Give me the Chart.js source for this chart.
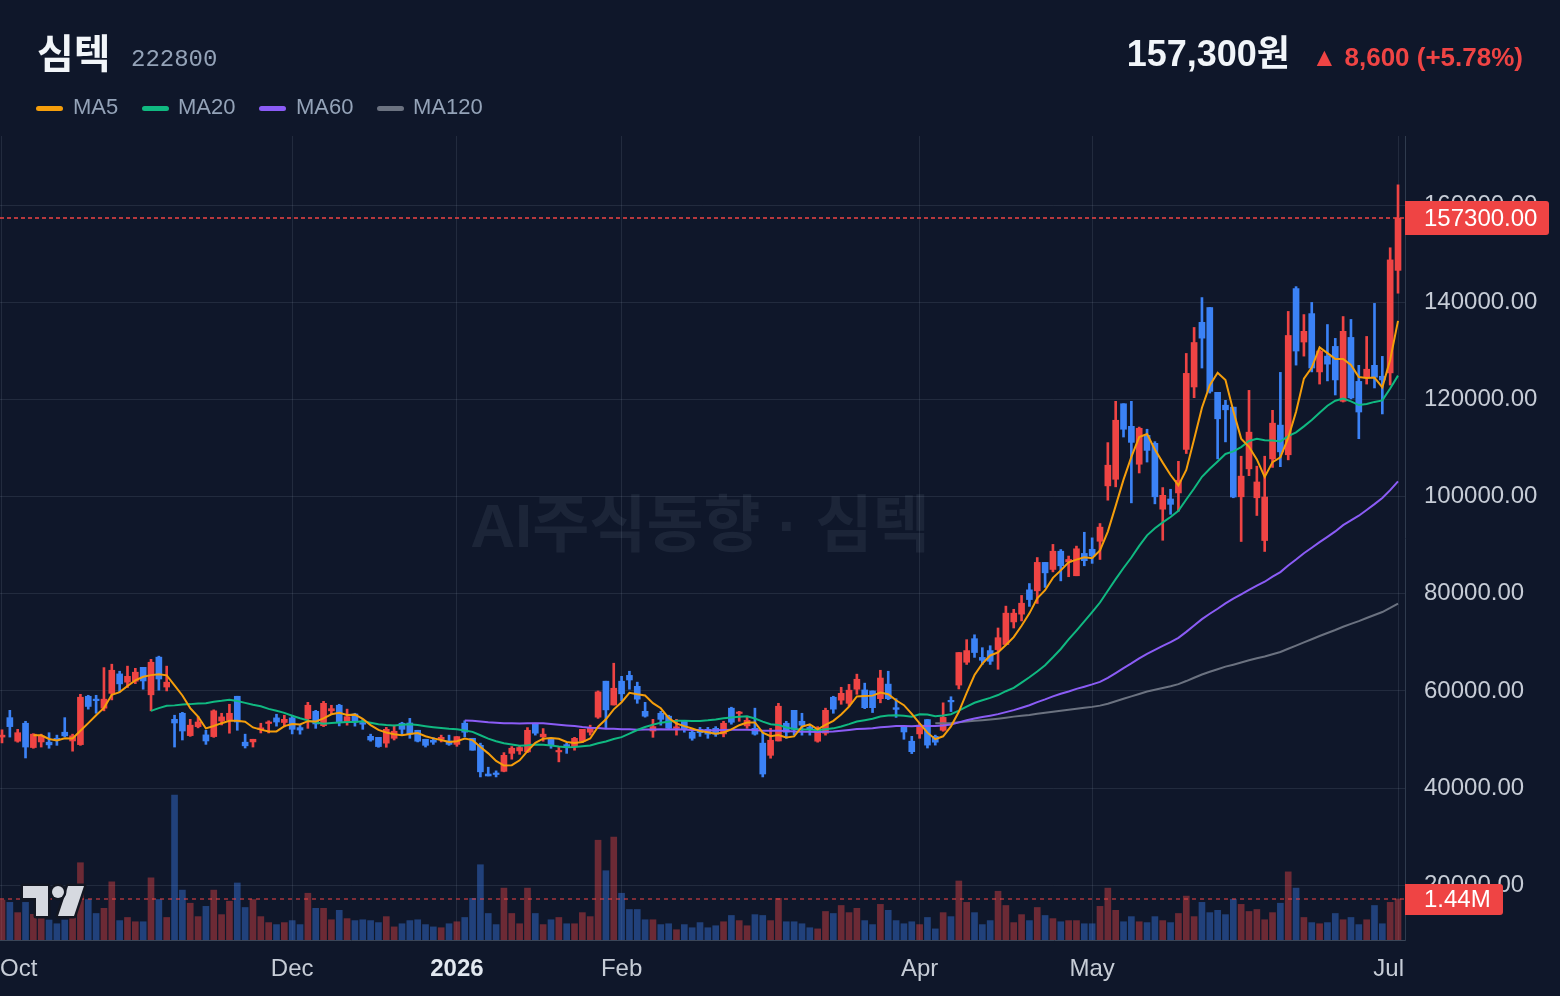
<!DOCTYPE html>
<html>
<head>
<meta charset="utf-8">
<script src="https://cdn.jsdelivr.net/npm/chart.js@4.4.1/dist/chart.umd.min.js"></script>
<style>
  html, body { margin: 0; padding: 0; background: #0f172a; }
  #wrap { position: relative; width: 1560px; height: 996px; overflow: hidden; }
  canvas { position: absolute; left: 0; top: 0; }
  .t { position: absolute; white-space: nowrap; }
  .sw { position: absolute; width: 27px; height: 5px; border-radius: 3px; }
  .lg { position: absolute; top: 96px; font: 22px/22px "Liberation Sans", sans-serif; color: #94a3b8; }
</style>
</head>
<body>
<div id="wrap">
  <canvas id="chart" width="1560" height="996"></canvas>
  <div class="t" style="left:37px; top:31px; font:bold 40px/40px 'Noto Sans CJK KR', sans-serif; color:#f1f5f9;">심텍</div>
  <div class="t" style="left:131px; top:48px; font:24px/24px 'Liberation Mono', monospace; color:#94a3b8;">222800</div>
  <div class="t" style="right:270px; top:36px; font:bold 36px/36px 'Liberation Sans', 'Noto Sans CJK KR', sans-serif; color:#f1f5f9;">157,300원</div>
  <div class="t" style="right:37px; top:44px; font:bold 26px/26px 'Liberation Sans', 'DejaVu Sans', sans-serif; color:#ef4444;">▲ 8,600 (+5.78%)</div>

  <div class="sw" style="left:36px; top:106px; background:#f59e0b;"></div>
  <div class="lg" style="left:73px;">MA5</div>
  <div class="sw" style="left:142px; top:106px; background:#10b981;"></div>
  <div class="lg" style="left:178px;">MA20</div>
  <div class="sw" style="left:259px; top:106px; background:#8b5cf6;"></div>
  <div class="lg" style="left:296px;">MA60</div>
  <div class="sw" style="left:377px; top:106px; background:#6b7280;"></div>
  <div class="lg" style="left:413px;">MA120</div>
</div>
<script>
// daily candles, Oct -> Jul (one entry per trading day)
const opens = [
  50500, 54500, 49650, 53350, 48350, 49500, 49450, 50250, 51500, 49700,
  48950, 58900, 58300, 56450, 59500, 63500, 61800, 62000, 64850, 59200,
  66950, 60800, 54150, 55400, 50800, 52650, 50950, 50600, 53800, 53950,
  58900, 49450, 49500, 52050, 53300, 54450, 53500, 54450, 52450, 54300,
  55800, 52850, 55900, 57050, 53600, 55250, 53500, 50650, 50450, 49250,
  50250, 53350, 53400, 51900, 50050, 49850, 50050, 49700, 49000, 53350,
  50250, 48800, 42900, 43050, 43450, 47150, 47650, 47450, 53350, 50550,
  50250, 47450, 48950, 48550, 49650, 51500, 54600, 62000, 57100, 62000,
  63200, 60950, 55800, 51750, 55400, 54800, 52300, 53750, 51500, 52100,
  52100, 52300, 51150, 56450, 55350, 52800, 52300, 49250, 46750, 49700,
  53350, 56000, 53750, 52500, 49650, 51300, 58700, 58100, 57450, 60350,
  60200, 60000, 58400, 61400, 56550, 52700, 49650, 51150, 54100, 50650,
  51900, 57950, 61200, 65900, 70750, 66900, 68300, 68500, 69550, 74200,
  75800, 80800, 80600, 86450, 85000, 88750, 86550, 83700, 88300, 89150,
  90800, 102200, 103550, 119100, 114450, 106650, 112600, 110950, 97400, 99500,
  100750, 109700, 122550, 135850, 138900, 121450, 118800, 118400, 99950, 105700,
  99750, 90950, 107750, 114700, 108600, 142800, 131800, 137650, 125650, 128900,
  130900, 119600, 132750, 123700, 124400, 127000, 124750, 125450, 146550
];
const highs = [
  52000, 56000, 52100, 53750, 51200, 51100, 51400, 50900, 54500, 51100,
  59300, 59100, 59100, 64800, 65500, 64050, 65100, 64650, 64850, 66500,
  67150, 65100, 55000, 55600, 54150, 54700, 51900, 56100, 55400, 57250,
  58900, 51100, 50050, 53350, 53850, 55200, 55000, 55000, 53000, 57650,
  56000, 57850, 57050, 57250, 56250, 55400, 54150, 51100, 50450, 52500,
  52950, 53550, 54350, 51900, 50050, 50400, 50900, 50900, 50600, 53850,
  50250, 49250, 44300, 43550, 47300, 48550, 48800, 52450, 53350, 52250,
  50250, 48550, 49250, 50450, 52100, 52950, 60000, 62000, 65700, 63000,
  64050, 61800, 57650, 54150, 55800, 55000, 54150, 53950, 51900, 52500,
  52500, 52650, 53750, 56650, 55800, 54600, 56450, 51500, 52300, 57450,
  53750, 56000, 55400, 52950, 52650, 56450, 58900, 60750, 61350, 63450,
  61600, 60000, 64250, 64050, 58400, 52700, 50650, 53300, 54100, 50900,
  57550, 58800, 67900, 70550, 71550, 68900, 69300, 72950, 77450, 76800,
  79650, 82100, 87450, 86450, 90150, 89100, 87750, 89800, 92650, 91500,
  94450, 111100, 119600, 119100, 119600, 114300, 113850, 111300, 101850, 101500,
  107250, 129450, 134800, 140950, 138900, 121450, 119800, 118400, 108300, 121850,
  106250, 108300, 117750, 125550, 138100, 143200, 137450, 139950, 130150, 135400,
  132550, 137050, 136450, 127000, 132950, 139750, 128850, 151200, 164150
];
const lows = [
  49300, 50500, 49450, 46200, 48200, 48450, 48200, 48800, 50550, 47600,
  48800, 56250, 55400, 55900, 58150, 59800, 60700, 61500, 60350, 55900,
  60150, 60000, 48450, 49900, 50650, 52400, 49000, 50450, 53000, 51300,
  51900, 48250, 48450, 51350, 51350, 52750, 52600, 51150, 51100, 52300,
  52300, 52650, 55200, 52800, 52950, 52750, 52100, 49650, 48400, 48400,
  49900, 50900, 50250, 49500, 48450, 49000, 49500, 48800, 48600, 50550,
  47800, 42300, 42500, 42300, 43350, 45950, 46950, 47300, 50900, 49650,
  48200, 45400, 47150, 47800, 49350, 50900, 54350, 52450, 57100, 57950,
  60350, 57450, 54600, 50450, 52950, 52100, 50900, 51500, 49850, 50650,
  50250, 50650, 50550, 53150, 53750, 52300, 50900, 42300, 46150, 49700,
  50250, 50900, 50900, 50900, 49450, 50900, 55400, 57250, 56850, 59300,
  56350, 55550, 57550, 58200, 54550, 50050, 47100, 50250, 48250, 48850,
  51700, 55750, 60400, 65450, 66900, 65450, 65450, 64450, 69550, 72950,
  74400, 77400, 78000, 81300, 84500, 82650, 83500, 83700, 85750, 86250,
  87050, 99250, 102000, 112250, 98700, 104850, 107100, 98500, 91000, 96350,
  97000, 108850, 120350, 126450, 121300, 107750, 111250, 99750, 90750, 104300,
  96100, 88700, 106000, 106150, 107550, 127050, 128900, 125650, 123150, 123800,
  120900, 119450, 120100, 111900, 123150, 122350, 117000, 122950, 141850
];
const closes = [
  50900, 52650, 51400, 48450, 51100, 50750, 48900, 49850, 50750, 50750,
  58700, 56800, 58000, 58300, 64250, 61450, 63000, 63850, 62050, 65900,
  62450, 61800, 53400, 51750, 52950, 53600, 49700, 55900, 54650, 55400,
  53600, 48700, 50050, 52400, 53600, 53600, 54150, 52100, 51950, 57050,
  53200, 57450, 56350, 53500, 54700, 53600, 53150, 49900, 48550, 52100,
  51700, 52100, 51150, 49650, 48800, 49450, 50450, 49000, 50600, 51500,
  47800, 43350, 42500, 42800, 46750, 48200, 48350, 51900, 51300, 51100,
  48800, 47650, 48550, 50250, 52100, 52500, 59800, 56100, 60550, 59400,
  62250, 58300, 54800, 52650, 54150, 52300, 52600, 52100, 50250, 51400,
  51100, 51100, 53350, 53550, 55600, 53950, 51100, 42900, 49850, 56850,
  51500, 52100, 52950, 52100, 51900, 56000, 56250, 59500, 60150, 62400,
  56550, 56550, 62650, 58400, 56200, 51550, 47500, 52950, 48850, 49450,
  54550, 57750, 67900, 68300, 67900, 66300, 66100, 70950, 76000, 76000,
  78050, 78800, 86450, 84300, 88750, 85750, 87050, 89250, 86800, 87750,
  93700, 106450, 115700, 113850, 111150, 114050, 109500, 99950, 100250, 98400,
  103350, 125350, 131700, 132600, 121650, 116000, 117850, 99900, 104200, 113250,
  103000, 99900, 115100, 109200, 133150, 129950, 134000, 126450, 129950, 127250,
  124000, 134000, 120300, 117400, 126200, 124550, 124000, 148700, 157300
];
// volume in millions of shares
const volumes = [
  1.40, 1.32, 0.96, 1.32, 0.90, 0.80, 0.70, 0.57, 0.70, 0.80,
  2.71, 1.42, 0.93, 1.11, 2.04, 0.68, 0.79, 0.64, 0.64, 2.18,
  1.42, 0.79, 5.08, 1.75, 1.29, 0.82, 1.18, 1.75, 0.89, 1.36,
  2.00, 1.14, 1.42, 0.82, 0.61, 0.54, 0.61, 0.68, 0.54, 1.64,
  1.11, 1.11, 0.71, 1.04, 0.75, 0.68, 0.71, 0.68, 0.61, 0.82,
  0.46, 0.57, 0.68, 0.71, 0.54, 0.46, 0.43, 0.57, 0.64, 0.79,
  1.46, 2.64, 0.93, 0.54, 1.82, 0.93, 0.57, 1.82, 0.93, 0.54,
  0.71, 0.79, 0.57, 0.57, 0.96, 0.82, 3.50, 2.43, 3.61, 1.64,
  1.07, 1.07, 0.71, 0.71, 0.54, 0.57, 0.36, 0.54, 0.43, 0.61,
  0.43, 0.50, 0.64, 0.86, 0.68, 0.50, 0.89, 0.86, 0.68, 1.46,
  0.64, 0.64, 0.57, 0.43, 0.39, 1.00, 0.93, 1.21, 0.96, 1.11,
  0.68, 0.54, 1.25, 1.04, 0.68, 0.57, 0.64, 0.54, 0.79, 0.39,
  0.96, 0.82, 2.07, 1.32, 0.96, 0.54, 0.68, 1.71, 1.21, 0.61,
  0.89, 0.68, 1.14, 0.86, 0.75, 0.64, 0.68, 0.68, 0.57, 0.57,
  1.18, 1.82, 1.04, 0.64, 0.82, 0.64, 0.61, 0.82, 0.68, 0.61,
  0.93, 1.54, 0.82, 1.32, 0.96, 1.04, 0.89, 1.43, 1.25, 1.00,
  1.07, 0.71, 0.96, 1.29, 2.39, 1.82, 0.79, 0.61, 0.57, 0.61,
  0.93, 0.71, 0.79, 0.54, 0.71, 1.21, 0.57, 1.32, 1.44
];
// month labels on the time axis (candle index where each starts)
const tickIdx = [0, 37, 58, 79, 117, 139, 178];
const tickText = ["Oct", "Dec", "2026", "Feb", "Apr", "May", "Jul"];
const priceTicks = [20000, 40000, 60000, 80000, 100000, 120000, 140000, 160000];

const lastPrice = 157300;
const lastVolume = 1.44;

const UP = "#ef4444";
const DOWN = "#3b82f6";
const BG = "#0f172a";
const GRID = "rgba(148,163,184,0.15)";

const idx = closes.map((c, i) => i);
const candleColors = idx.map(i => closes[i] >= opens[i] ? UP : DOWN);
const volColors = idx.map(i => closes[i] >= opens[i] ? "rgba(239,68,68,0.42)" : "rgba(59,130,246,0.40)");

function movingAvg(n) {
  const out = [];
  for (let i = n - 1; i < closes.length; i++) {
    let s = 0;
    for (let k = i - n + 1; k <= i; k++) s += closes[k];
    out.push({ x: i, y: s / n });
  }
  return out;
}

function maLine(n, color) {
  return {
    type: "line",
    label: "MA" + n,
    data: movingAvg(n),
    borderColor: color,
    borderWidth: 2,
    pointRadius: 0,
    tension: 0,
    yAxisID: "y",
    order: 1,
  };
}

// watermark, last-price lines, labels and logo
const overlay = {
  id: "overlay",
  beforeDraw(chart) {
    const ctx = chart.ctx;
    ctx.save();
    ctx.fillStyle = BG;
    ctx.fillRect(0, 0, chart.width, chart.height);
    ctx.restore();
  },
  beforeDatasetsDraw(chart) {
    const ctx = chart.ctx;
    const a = chart.chartArea;
    ctx.save();
    ctx.font = "bold 62px 'Liberation Sans', 'Noto Sans CJK KR', sans-serif";
    ctx.fillStyle = "rgba(148,163,184,0.10)";
    ctx.textAlign = "center";
    ctx.textBaseline = "middle";
    ctx.fillText("AI주식동향 · 심텍", 700, 530);
    ctx.restore();
  },
  afterDatasetsDraw(chart) {
    const ctx = chart.ctx;
    const a = chart.chartArea;
    const py = chart.scales.y.getPixelForValue(lastPrice);
    const vy = chart.scales.v.getPixelForValue(lastVolume);
    ctx.save();
    ctx.lineWidth = 1.5;
    ctx.setLineDash([4, 3]);
    ctx.strokeStyle = UP;
    ctx.beginPath();
    ctx.moveTo(a.left, py);
    ctx.lineTo(a.right, py);
    ctx.stroke();
    ctx.lineWidth = 2;
    ctx.setLineDash([4, 4]);
    ctx.strokeStyle = "rgba(239,68,68,0.5)";
    ctx.beginPath();
    ctx.moveTo(a.left, vy);
    ctx.lineTo(a.right, vy);
    ctx.stroke();
    ctx.restore();
  },
  afterDraw(chart) {
    const ctx = chart.ctx;
    const a = chart.chartArea;
    const py = chart.scales.y.getPixelForValue(lastPrice);
    const vy = chart.scales.v.getPixelForValue(lastVolume);
    ctx.save();

    // last price / volume tags on the right axis
    ctx.fillStyle = UP;
    ctx.beginPath();
    ctx.roundRect(a.right, py - 17, 144, 34, [0, 3, 3, 0]);
    ctx.fill();
    ctx.beginPath();
    ctx.roundRect(a.right, vy - 15, 98, 31, [0, 3, 3, 0]);
    ctx.fill();
    ctx.fillStyle = "#ffffff";
    ctx.font = "24px 'Liberation Sans', sans-serif";
    ctx.textBaseline = "middle";
    ctx.textAlign = "left";
    ctx.fillText(lastPrice.toFixed(2), a.right + 19, py + 1);
    ctx.fillText(lastVolume.toFixed(2) + "M", a.right + 19, vy + 1);

    // month labels under the plot
    const xs = chart.scales.x;
    tickText.forEach((t, k) => {
      ctx.font = (t === "2026" ? "bold " : "") + "24px 'Liberation Sans', sans-serif";
      const w = ctx.measureText(t).width;
      let x = xs.getPixelForValue(tickIdx[k]) - w / 2;
      x = Math.max(0, Math.min(x, a.right - 1 - w));
      ctx.fillStyle = t === "2026" ? "#e2e8f0" : "#c6ccd6";
      ctx.fillText(t, x, 969);
    });

    // TradingView mark, bottom left
    ctx.lineJoin = "round";
    ctx.lineWidth = 5;
    ctx.strokeStyle = "#131722";
    ctx.fillStyle = "#d6d9e0";
    const shapes = [
      [[23, 886], [48, 886], [48, 916], [36, 916], [36, 898], [23, 898]],
      [[68, 886], [84, 886], [74, 916], [58, 916]],
    ];
    shapes.forEach(pts => {
      ctx.beginPath();
      pts.forEach((p, k) => k ? ctx.lineTo(p[0], p[1]) : ctx.moveTo(p[0], p[1]));
      ctx.closePath();
      ctx.stroke();
      ctx.fill();
    });
    ctx.beginPath();
    ctx.arc(58, 892, 6, 0, Math.PI * 2);
    ctx.stroke();
    ctx.fill();
    ctx.restore();
  },
};

new Chart(document.getElementById("chart"), {
  type: "bar",
  data: {
    datasets: [
      maLine(5, "#f59e0b"),
      maLine(20, "#10b981"),
      maLine(60, "#8b5cf6"),
      maLine(120, "#6b7280"),
      {
        label: "body",
        data: idx.map(i => ({ x: i, y: [opens[i], closes[i]] })),
        backgroundColor: candleColors,
        barThickness: 6,
        minBarLength: 1.5,
        grouped: false,
        yAxisID: "y",
        order: 2,
      },
      {
        label: "wick",
        data: idx.map(i => ({ x: i, y: [lows[i], highs[i]] })),
        backgroundColor: candleColors,
        barThickness: 2,
        grouped: false,
        yAxisID: "y",
        order: 3,
      },
      {
        label: "volume",
        data: idx.map(i => ({ x: i, y: volumes[i] })),
        backgroundColor: volColors,
        barThickness: 6,
        grouped: false,
        yAxisID: "v",
        order: 4,
      },
    ],
  },
  options: {
    responsive: false,
    animation: false,
    devicePixelRatio: 1,
    layout: { padding: { top: 136, left: 0, right: 0, bottom: 0 } },
    plugins: {
      legend: { display: false },
      tooltip: { enabled: false },
    },
    scales: {
      x: {
        type: "linear",
        offset: false,
        min: -0.255,
        max: 178.89,
        grid: { color: GRID, drawTicks: false, offset: false },
        border: { display: true, color: "#3b4658" },
        ticks: { display: false },
        afterBuildTicks: s => { s.ticks = tickIdx.map(v => ({ value: v })); },
        afterFit: s => { s.height = 56; },
      },
      y: {
        position: "right",
        min: 8740,
        max: 174200,
        grid: { color: GRID, drawTicks: false },
        border: { display: true, color: "#2f3b4e" },
        ticks: {
          color: "#c6ccd6",
          font: { family: "'Liberation Sans', sans-serif", size: 24 },
          padding: 19,
          callback: v => Number(v).toFixed(2),
        },
        afterBuildTicks: s => { s.ticks = priceTicks.map(v => ({ value: v })); },
        afterFit: s => { s.width = 155; },
      },
      v: { display: false, min: 0, max: 28.2 },
    },
  },
  plugins: [overlay],
});
</script>
</body>
</html>
